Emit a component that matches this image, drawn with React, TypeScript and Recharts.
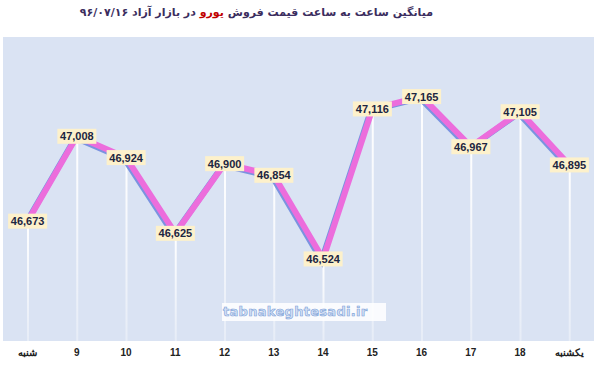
import React from "react";
import {
  ComposedChart,
  Bar,
  Line,
  XAxis,
  YAxis,
  CartesianGrid,
  LabelList,
} from "recharts";

const hours = ["شنبه", "9", "10", "11", "12", "13", "14", "15", "16", "17", "18", "یکشنبه"];
const prices = [46673, 47008, 46924, 46625, 46900, 46854, 46524, 47116, 47165, 46967, 47105, 46895];
const yDomain = [46200, 47400];

const data = hours.map((h, i) => ({ hour: h, price: prices[i] }));

const fmt = (v: number) => v.toLocaleString("en-US");

function PriceLabel(props: any) {
  const { x, y, value } = props;
  if (x == null || y == null) return null;
  const w = 39;
  const h = 15;
  return (
    <g>
      <rect x={x - w / 2} y={y - h / 2} width={w} height={h} fill="#fdf1cb" />
      <text
        x={x}
        y={y + 4}
        textAnchor="middle"
        fontFamily="'Liberation Sans', Arial, sans-serif"
        fontWeight="bold"
        fontSize={11}
        fill="#1c2541"
      >
        {fmt(value)}
      </text>
    </g>
  );
}

export default function App() {
  return (
    <div
      style={{
        position: "absolute",
        left: 0,
        top: 0,
        width: 600,
        height: 368,
        background: "#ffffff",
        overflow: "hidden",
      }}
    >
      <style>{`.shadow-line path { transform: translate(-1.5px, 1.5px); }`}</style>
      <div
        style={{
          position: "absolute",
          top: 6,
          right: 167,
          direction: "rtl",
          fontFamily: "'DejaVu Sans', sans-serif",
          fontWeight: "bold",
          fontSize: 11,
          color: "#3b2d5e",
          whiteSpace: "nowrap",
        }}
      >
        میانگین ساعت به ساعت قیمت فروش <span style={{ color: "#c00000" }}>یورو</span> در بازار آزاد ۹۶/۰۷/۱۶
      </div>
      <ComposedChart
        width={600}
        height={368}
        data={data}
        margin={{ top: 37, right: 6, bottom: 0, left: 3 }}
      >
        <defs>
          <linearGradient id="dropFade" x1="0" y1="0" x2="0" y2="1">
            <stop offset="0%" stopColor="#ffffff" stopOpacity={1} />
            <stop offset="100%" stopColor="#ffffff" stopOpacity={0.35} />
          </linearGradient>
        </defs>
        <CartesianGrid horizontal={false} vertical={false} fill="#dae3f3" />
        <XAxis
          dataKey="hour"
          axisLine={false}
          tickLine={false}
          height={27}
          interval={0}
          tick={{
            fontSize: 10,
            fontWeight: "bold",
            fill: "#222222",
            fontFamily: "'Liberation Sans', Arial, sans-serif",
          }}
        />
        <YAxis hide domain={yDomain} />
        <Bar dataKey="price" barSize={2} fill="url(#dropFade)" isAnimationActive={false} />
        <Line
          className="shadow-line"
          dataKey="price"
          stroke="#7b93e0"
          strokeWidth={6}
          dot={false}
          activeDot={false}
          isAnimationActive={false}
        />
        <Line
          dataKey="price"
          stroke="#ec6ddc"
          strokeWidth={6}
          dot={false}
          activeDot={false}
          isAnimationActive={false}
        >
          <LabelList dataKey="price" content={PriceLabel} />
        </Line>
      </ComposedChart>
      <div
        style={{
          position: "absolute",
          left: 222,
          top: 303,
          width: 163,
          height: 18,
          background: "rgba(255,255,255,0.85)",
          fontFamily: "'DejaVu Sans', sans-serif",
          fontWeight: "bold",
          fontSize: 13,
          lineHeight: "18px",
          paddingLeft: 1,
          color: "#d3e0f5",
          WebkitTextStroke: "0.6px #7ea2d8",
          letterSpacing: 0.3,
        }}
      >
        tabnakeghtesadi.ir
      </div>
    </div>
  );
}
